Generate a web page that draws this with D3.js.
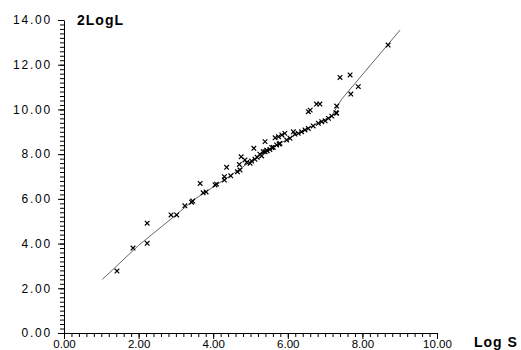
<!DOCTYPE html>
<html>
  <head>
    <script src="https://cdn.jsdelivr.net/npm/d3@7"></script>
    <style>
      body { margin: 0; background: #fff; }
      .tick text { font-family: "Liberation Sans", Arial, sans-serif; font-size: 11.5px; fill: #000; }
      .ylab .tick text { letter-spacing: 1.8px; font-size: 12px; }
      .axtitle { font-family: "Liberation Sans", Arial, sans-serif; font-weight: bold; font-size: 14px; letter-spacing: 1px; }
    </style>
  </head>
  <body>
    <script>
      // fitted curve (Log S, 2LogL)
      var lineX = [1.03, 2.0, 3.0, 3.5, 4.4, 5.25, 5.79, 6.5, 7.18, 7.44, 9.01];
      var lineY = [2.40, 3.92, 5.28, 5.98, 6.97, 7.96, 8.48, 9.12, 9.72, 10.45, 13.55];

      // observed points
      var ptX = [1.42, 1.85, 2.23, 2.23, 2.87, 3.02, 3.24, 3.42, 3.45, 3.65, 3.73, 3.81,
                 4.05, 4.09, 4.30, 4.30, 4.36, 4.47, 4.65, 4.72, 4.70, 4.75, 4.85, 4.90,
                 4.99, 5.03, 5.09, 5.12, 5.18, 5.25, 5.30, 5.39, 5.39, 5.45, 5.52, 5.61,
                 5.70, 5.75, 5.77, 5.34, 5.43, 5.57, 5.79, 5.97, 6.06, 5.66, 5.84, 5.92,
                 6.15, 6.19, 6.28, 6.37, 6.46, 6.55, 6.55, 6.60, 6.77, 6.86, 6.68, 6.82,
                 6.91, 7.00, 7.09, 7.18, 7.31, 7.31, 7.29, 7.40, 7.67, 7.89, 7.69, 8.69];
      var ptY = [2.77, 3.80, 4.91, 4.01, 5.28, 5.28, 5.69, 5.85, 5.90, 6.69, 6.27, 6.31,
                 6.62, 6.66, 6.84, 6.99, 7.41, 7.03, 7.21, 7.29, 7.54, 7.88, 7.74, 7.63,
                 7.59, 7.69, 8.26, 7.77, 7.86, 8.00, 7.92, 8.56, 8.11, 8.15, 8.21, 8.30,
                 8.41, 8.78, 8.45, 8.11, 8.18, 8.30, 8.48, 8.63, 8.71, 8.73, 8.86, 8.93,
                 9.00, 8.90, 8.93, 9.00, 9.08, 9.15, 9.90, 9.97, 10.24, 10.24, 9.26, 9.38,
                 9.45, 9.49, 9.60, 9.70, 9.83, 10.15, 9.85, 11.43, 11.54, 11.02, 10.69, 12.88];

      var xMajor = [0, 2, 4, 6, 8, 10];
      var yMajor = [0, 2, 4, 6, 8, 10, 12, 14];

      var width = 521, height = 350;
      var svg = d3.select("body").append("svg")
                  .attr("width", width)
                  .attr("height", height);

      var x = d3.scaleLinear().domain([0, 10]).range([64, 437]);
      var y = d3.scaleLinear().domain([0, 14]).range([333, 20]);

      // minor ticks every 0.2
      var xMinor = d3.range(0, 10.001, 0.2);
      var yMinor = d3.range(0, 14.001, 0.2);

      svg.append("g")
         .attr("transform", "translate(0,333)")
         .call(d3.axisBottom(x).tickValues(xMinor).tickSize(4).tickFormat(""))
         .call(g => g.select(".domain").remove());
      svg.append("g")
         .attr("transform", "translate(0,333)")
         .call(d3.axisBottom(x).tickValues(xMajor).tickSize(6).tickSizeOuter(0)
                 .tickPadding(1).tickFormat(d3.format(".2f")));

      svg.append("g")
         .attr("transform", "translate(64,0)")
         .call(d3.axisLeft(y).tickValues(yMinor).tickSize(4).tickFormat(""))
         .call(g => g.select(".domain").remove());
      svg.append("g")
         .attr("class", "ylab")
         .attr("transform", "translate(64,0)")
         .call(d3.axisLeft(y).tickValues(yMajor).tickSize(6).tickSizeOuter(0)
                 .tickPadding(6).tickFormat(d3.format(".2f")));

      svg.selectAll(".domain, .tick line").attr("stroke", "#000");

      // fitted line
      var line = d3.line()
                   .x(function(d, i) { return x(lineX[i]); })
                   .y(function(d, i) { return y(lineY[i]); });
      svg.append("path")
         .datum(lineX)
         .attr("d", line)
         .attr("fill", "none")
         .attr("stroke", "#666")
         .attr("stroke-width", 1);

      // x markers
      var s = 2.3;
      svg.selectAll(".pt")
         .data(ptX)
         .enter()
         .append("path")
         .attr("class", "pt")
         .attr("d", function(d, i) {
           var cx = x(d), cy = y(ptY[i]);
           return "M" + (cx - s) + "," + (cy - s) + "L" + (cx + s) + "," + (cy + s) +
                  "M" + (cx - s) + "," + (cy + s) + "L" + (cx + s) + "," + (cy - s);
         })
         .attr("stroke", "#000")
         .attr("stroke-width", 1.2);

      svg.append("text")
         .attr("class", "axtitle")
         .attr("x", 77)
         .attr("y", 25)
         .text("2LogL");
      svg.append("text")
         .attr("class", "axtitle")
         .attr("x", 474)
         .attr("y", 347)
         .text("Log S");
    </script>
  </body>
</html>
